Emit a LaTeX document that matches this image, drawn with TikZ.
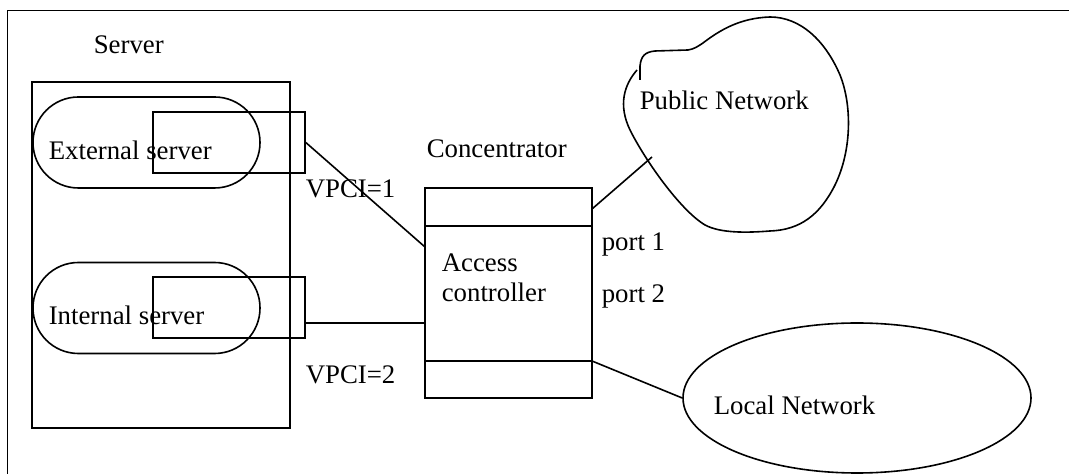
\documentclass[tikz,border=0pt]{standalone}
\usepackage{fontspec}
\setmainfont{Liberation Serif}
\usetikzlibrary{shapes.geometric}
\begin{document}
\begin{tikzpicture}[x=0.5pt,y=-0.5pt,
  font=\fontsize{13.4}{15}\selectfont,
  line width=0.8pt,
  lbl/.style={anchor=west, inner sep=0pt, align=left},
  box/.style={draw, inner sep=0pt},
  stadium/.style={draw, inner sep=0pt, rounded corners=22.7pt, minimum width=113.5pt, minimum height=45.5pt},
  portbox/.style={draw, inner sep=0pt, minimum width=76pt, minimum height=30.5pt}]
\useasboundingbox (0,0) rectangle (1069,474);
% frame
\draw (1069,10.5) -- (7.5,10.5) -- (7.5,474);
% server
\node[lbl] (srvlabel) at (93,45) {Server};
\node[box, minimum width=129pt, minimum height=173pt] (srv) at (161,255) {};
\node[stadium] (ext) at (146.5,142.5) {};
\node[portbox] (extp) at (229,142.5) {};
\node[lbl] (extlabel) at (48,150) {External server};
\node[stadium] (int) at (146.5,308) {};
\node[portbox] (intp) at (229,307.5) {};
\node[lbl] (intlabel) at (48,315) {Internal server};
% concentrator
\node[lbl] (conclabel) at (426,149) {Concentrator};
\node[box, minimum width=83.5pt, minimum height=105pt] (conc) at (508.5,293) {};
\draw (conc.west |- 0,226) -- (conc.east |- 0,226);
\draw (conc.west |- 0,361) -- (conc.east |- 0,361);
\node[lbl] (acc) at (441,278) {Access\\controller};
\node[lbl] (vpci1) at (305,189) {VPCI=1};
\node[lbl] (vpci2) at (305,375) {VPCI=2};
\node[lbl] (port1) at (601,245) {port 1};
\node[lbl] (port2) at (601,296) {port 2};
% public network cloud
\draw (640,80) -- (640,66) .. controls (641,56) and (645,52) .. (655,51)
  -- (688,50) .. controls (694,49) and (697,47) .. (703,43)
  .. controls (720,30) and (740,18) .. (770,17)
  .. controls (800,17) and (825,40) .. (840,75)
  .. controls (852,105) and (852,150) .. (835,185)
  .. controls (820,215) and (800,230) .. (770,231)
  .. controls (745,233) and (720,233) .. (705,225)
  .. controls (680,210) and (645,160) .. (630,130)
  .. controls (618,105) and (624,85) .. (637,70);
\node[lbl] (pub) at (639,100) {Public Network};
\coordinate (pubend) at (652,157);
% local network
\node[draw, ellipse, inner sep=0pt, minimum width=174pt, minimum height=75pt] (loc) at (857,398) {};
\node[lbl] (loclabel) at (713,405) {Local Network};
% connectors
\coordinate (c1) at (425,247);
\coordinate (c2) at (425,323);
\coordinate (i2) at (305,323);
\coordinate (p1) at (592,209);
\coordinate (p2) at (592,361);
\draw (extp.east) -- (c1);
\draw (i2) -- (c2);
\draw (p1) -- (pubend);
\draw (p2) -- (loc.west);
\end{tikzpicture}
\end{document}
